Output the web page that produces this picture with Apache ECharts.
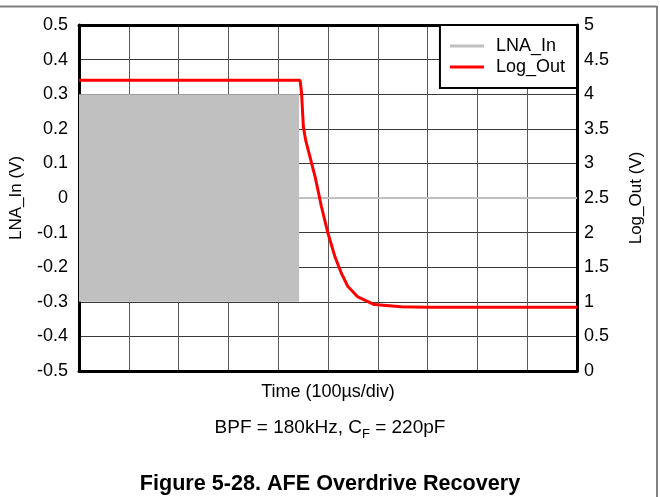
<!DOCTYPE html>
<html>
<head>
<meta charset="utf-8">
<script src="https://cdn.jsdelivr.net/npm/echarts@6/dist/echarts.min.js"></script>
<style>
  html, body { margin: 0; padding: 0; background: #fff; }
  #chart { width: 660px; height: 497px; }
</style>
</head>
<body>
<div id="chart"></div>
<script>
const FONT = '"Liberation Sans", Arial, Helvetica, sans-serif';

// Time axis in divisions (100 µs/div)
const timeRange = [0, 10];

// LNA_In: overdrive burst (envelope) followed by a quiet baseline
const lnaBurstTime = [0, 4.42];
const lnaBurstEnvelope = [-0.3, 0.3];
const lnaIdleTime = [4.42, 10];
const lnaIdleLevel = [0, 0];
const lnaRange = [-0.5, 0.5];

// Log_Out recovery trace
const logTime = [0, 4.44, 4.47, 4.505, 4.55, 4.74, 4.87, 5.0, 5.14, 5.27, 5.4, 5.6, 5.93, 6.47, 7.0, 8.0, 9.0, 10.0];
const logOut  = [4.2, 4.2, 4.01, 3.53, 3.34, 2.81, 2.37, 1.99, 1.65, 1.41, 1.22, 1.07, 0.96, 0.93, 0.92, 0.92, 0.92, 0.92];
const logRange = [0, 5];

const seriesNames = ['LNA_In', 'Log_Out'];

const chart = echarts.init(document.getElementById('chart'), null, { renderer: 'canvas' });

const frameLine = { color: '#000', width: 3 };

chart.setOption({
  backgroundColor: '#fff',
  animation: false,
  textStyle: { fontFamily: FONT },
  grid: { left: 76, top: 25, right: 83, bottom: 126, containLabel: false },
  title: [
    {
      text: '{a|BPF = 180kHz, C}{s|F}{a| = 220pF}',
      left: 'center',
      top: 412,
      textStyle: {
        fontWeight: 'normal',
        rich: {
          a: { fontFamily: FONT, fontSize: 19, fontWeight: 'normal', color: '#000', lineHeight: 22 },
          s: { fontFamily: FONT, fontSize: 13, fontWeight: 'normal', color: '#000', lineHeight: 22, verticalAlign: 'bottom', padding: [0, 0, -2, 0] }
        }
      }
    },
    {
      text: 'Figure 5-28. AFE Overdrive Recovery',
      left: 'center',
      top: 468,
      textStyle: { fontFamily: FONT, fontSize: 21.6, fontWeight: 'bold', color: '#000' }
    }
  ],
  legend: {
    data: seriesNames.map(n => ({ name: n, icon: 'rect' })),
    orient: 'vertical',
    right: 83,
    top: 25,
    backgroundColor: '#fff',
    borderColor: '#000',
    borderWidth: 2,
    borderRadius: 0,
    padding: [12, 12, 12, 10],
    itemWidth: 34,
    itemHeight: 3,
    itemGap: 3,
    textStyle: { fontFamily: FONT, fontSize: 18, color: '#000', padding: [0, 0, 0, 7] }
  },
  xAxis: [
    {
      type: 'value',
      min: timeRange[0],
      max: timeRange[1],
      interval: 1,
      position: 'bottom',
      name: 'Time (100\u00b5s/div)',
      nameLocation: 'middle',
      nameGap: 12,
      nameTextStyle: { fontFamily: FONT, fontSize: 18, color: '#000' },
      axisLine: { onZero: false, lineStyle: frameLine },
      axisTick: { show: false },
      axisLabel: { show: false },
      splitLine: { show: true, lineStyle: { color: '#5a5a5a', width: 1 } }
    },
    {
      type: 'value',
      min: timeRange[0],
      max: timeRange[1],
      interval: 1,
      position: 'top',
      axisLine: { onZero: false, lineStyle: frameLine },
      axisTick: { show: false },
      axisLabel: { show: false },
      splitLine: { show: false }
    }
  ],
  yAxis: [
    {
      type: 'value',
      min: lnaRange[0],
      max: lnaRange[1],
      interval: 0.1,
      position: 'left',
      name: 'LNA_In (V)',
      nameLocation: 'middle',
      nameRotate: 90,
      nameGap: 54,
      nameTextStyle: { fontFamily: FONT, fontSize: 17, color: '#000' },
      axisLine: { onZero: false, lineStyle: frameLine },
      axisTick: { show: false },
      axisLabel: { margin: 11, fontFamily: FONT, fontSize: 18, color: '#000' },
      splitLine: { show: true, lineStyle: { color: '#3a3a3a', width: 1 } }
    },
    {
      type: 'value',
      min: logRange[0],
      max: logRange[1],
      interval: 0.5,
      position: 'right',
      name: 'Log_Out (V)',
      nameLocation: 'middle',
      nameRotate: 90,
      nameGap: 51,
      nameTextStyle: { fontFamily: FONT, fontSize: 17, color: '#000' },
      axisLine: { onZero: false, lineStyle: frameLine },
      axisTick: { show: false },
      axisLabel: { margin: 7, fontFamily: FONT, fontSize: 18, color: '#000' },
      splitLine: { show: false }
    }
  ],
  graphic: [
    // page frame (top rule and right rule)
    { type: 'line', shape: { x1: 0, y1: 6.5, x2: 657, y2: 6.5 }, style: { stroke: '#808080', lineWidth: 2 }, silent: true },
    { type: 'line', shape: { x1: 657, y1: 6, x2: 657, y2: 497 }, style: { stroke: '#808080', lineWidth: 2 }, silent: true }
  ],
  series: [
    {
      name: seriesNames[0],
      type: 'line',
      xAxisIndex: 0,
      yAxisIndex: 0,
      symbol: 'none',
      z: 3,
      lineStyle: { color: '#c0c0c0', width: 2 },
      itemStyle: { color: '#c0c0c0' },
      data: lnaIdleTime.map((t, i) => [t, lnaIdleLevel[i]]),
      markArea: {
        silent: true,
        itemStyle: { color: '#c0c0c0', opacity: 1 },
        data: [[
          { coord: [lnaBurstTime[0], lnaBurstEnvelope[0]] },
          { coord: [lnaBurstTime[1], lnaBurstEnvelope[1]] }
        ]]
      }
    },
    {
      name: seriesNames[1],
      type: 'line',
      xAxisIndex: 0,
      yAxisIndex: 1,
      symbol: 'none',
      z: 4,
      lineStyle: { color: '#ff0000', width: 3 },
      itemStyle: { color: '#ff0000' },
      data: logTime.map((t, i) => [t, logOut[i]])
    }
  ]
});
</script>
</body>
</html>
